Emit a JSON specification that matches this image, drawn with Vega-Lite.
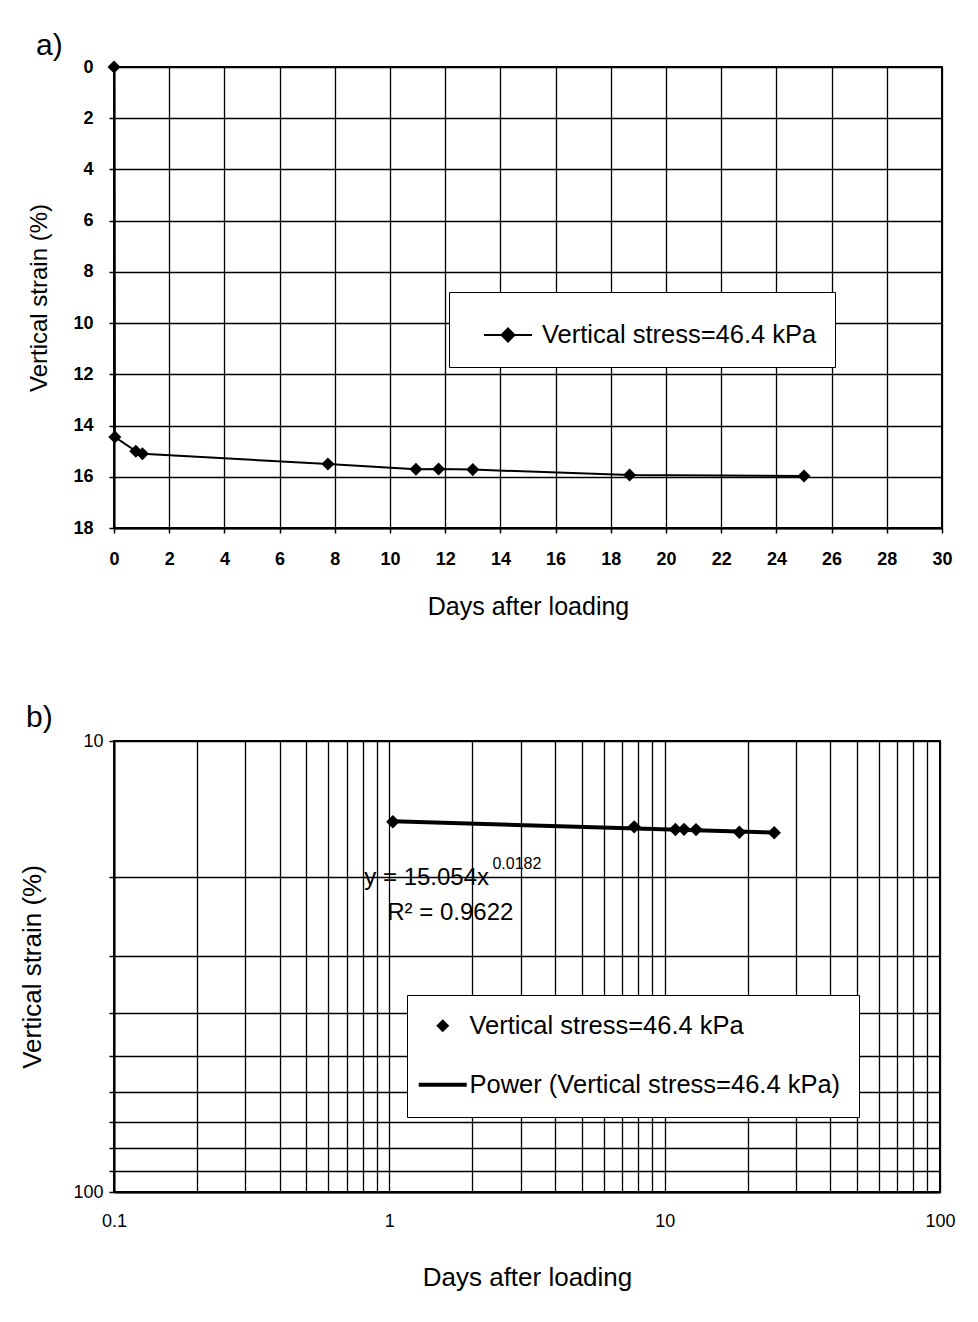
{
  "$schema": "https://vega.github.io/schema/vega-lite/v6.json",
  "padding": {"top": 30, "left": 18, "right": 0, "bottom": 0},
  "background": "white",
  "spacing": 82,
  "resolve": {"scale": {"color": "independent"}, "legend": {"color": "independent"}},
  "config": {
    "font": "Liberation Sans",
    "view": {"stroke": "black", "strokeWidth": 2},
    "axis": {
      "gridColor": "black", "gridOpacity": 1, "gridWidth": 1.3,
      "domainColor": "black", "domainWidth": 2,
      "tickColor": "black", "tickWidth": 1.5, "tickSize": 5,
      "labelColor": "black", "titleColor": "black",
      "titleFontWeight": "normal", "titleFontSize": 24, "labelFontSize": 18,
      "labelOverlap": false, "labelFlush": false
    },
    "legend": {"labelColor": "black", "titleColor": "black"},
    "title": {"fontSize": 30, "fontWeight": "normal", "anchor": "start", "frame": "bounds", "color": "black"}
  },
  "datasets": {
    "a": [
      {"day": 0, "strain": 0},
      {"day": 0.03, "strain": 14.45},
      {"day": 0.79, "strain": 15.0},
      {"day": 1.03, "strain": 15.1},
      {"day": 7.75, "strain": 15.5},
      {"day": 10.94, "strain": 15.71},
      {"day": 11.76, "strain": 15.7},
      {"day": 13.0, "strain": 15.72},
      {"day": 18.68, "strain": 15.93},
      {"day": 25.0, "strain": 15.97}
    ],
    "b": [
      {"day": 1.03, "strain": 15.1},
      {"day": 7.75, "strain": 15.5},
      {"day": 10.94, "strain": 15.71},
      {"day": 11.76, "strain": 15.7},
      {"day": 13.0, "strain": 15.72},
      {"day": 18.68, "strain": 15.93},
      {"day": 25.0, "strain": 15.97}
    ],
    "bfit": [
      {"day": 1.03, "strain": 15.062},
      {"day": 25.0, "strain": 15.958}
    ],
    "ann": [
      {"day": 0.811, "strain": 20.13, "text": "y = 15.054x", "kind": "main"},
      {"day": 2.369, "strain": 18.74, "text": "0.0182", "kind": "sup"},
      {"day": 0.983, "strain": 24.06, "text": "R² = 0.9622", "kind": "main"}
    ]
  },
  "vconcat": [
    {
      "width": 828,
      "height": 461,
      "title": {"text": "a)", "offset": -3, "dx": 8},
      "data": {"name": "a"},
      "mark": {"type": "line", "strokeWidth": 2, "point": {"shape": "diamond", "size": 170, "filled": true, "opacity": 1}},
      "encoding": {
        "x": {
          "field": "day", "type": "quantitative",
          "scale": {"domain": [0, 30], "nice": false},
          "axis": {"values": [0, 2, 4, 6, 8, 10, 12, 14, 16, 18, 20, 22, 24, 26, 28, 30], "title": "Days after loading", "titleFontSize": 25, "labelFontWeight": "bold", "labelPadding": 17, "titlePadding": 26}
        },
        "y": {
          "field": "strain", "type": "quantitative",
          "scale": {"domain": [0, 18], "reverse": true, "nice": false},
          "axis": {"values": [0, 2, 4, 6, 8, 10, 12, 14, 16, 18], "title": "Vertical strain (%)", "labelFontWeight": "bold", "labelPadding": 16, "titlePadding": 21}
        },
        "color": {
          "datum": "Vertical stress=46.4 kPa", "type": "nominal",
          "scale": {"range": ["black"]},
          "legend": {
            "title": null, "orient": "none", "legendX": 335, "legendY": 225,
            "fillColor": "white", "strokeColor": "black", "padding": 18,
            "symbolType": "M-1,0L1,0M0,-0.27L0.27,0L0,0.27L-0.27,0Z",
            "symbolSize": 2304, "symbolStrokeWidth": 2, "symbolOffset": 16,
            "labelFontSize": 25.5, "labelOffset": 9, "labelLimit": 600,
            "encode": {"symbols": {"update": {"fill": {"value": "black"}, "stroke": {"value": "black"}, "opacity": {"value": 1}}}}
          }
        }
      }
    },
    {
      "width": 826,
      "height": 451,
      "title": {"text": "b)", "offset": -1, "dx": 6},
      "encoding": {
        "x": {
          "field": "day", "type": "quantitative",
          "scale": {"type": "log", "domain": [0.1, 100], "nice": false},
          "axis": {
            "values": [0.1, 0.2, 0.3, 0.4, 0.5, 0.6, 0.7, 0.8, 0.9, 1, 2, 3, 4, 5, 6, 7, 8, 9, 10, 20, 30, 40, 50, 60, 70, 80, 90, 100],
            "format": "~g",
            "labelExpr": "(datum.value == 0.1 || datum.value == 1 || datum.value == 10 || datum.value == 100) ? datum.label : ''",
            "ticks": false, "labelPadding": 20, "titlePadding": 34, "title": "Days after loading", "titleFontSize": 26
          }
        },
        "y": {
          "field": "strain", "type": "quantitative",
          "scale": {"type": "log", "domain": [10, 100], "reverse": true, "nice": false},
          "axis": {
            "values": [10, 20, 30, 40, 50, 60, 70, 80, 90, 100],
            "format": "~g",
            "labelExpr": "(datum.value == 10 || datum.value == 100) ? datum.label : ''",
            "labelPadding": 6, "titlePadding": 27, "title": "Vertical strain (%)", "titleFontSize": 26
          }
        }
      },
      "layer": [
        {
          "data": {"name": "bfit"},
          "mark": {"type": "line", "strokeWidth": 4},
          "encoding": {
            "color": {
              "datum": "Power (Vertical stress=46.4 kPa)", "type": "nominal",
              "scale": {"domain": ["Vertical stress=46.4 kPa", "Power (Vertical stress=46.4 kPa)"], "range": ["black", "black"]},
              "legend": {
                "title": null, "orient": "none", "legendX": 293, "legendY": 254,
                "fillColor": "white", "strokeColor": "black", "padding": 18,
                "symbolSize": 2304, "symbolOffset": 5, "rowPadding": 32,
                "labelFontSize": 25.5, "labelOffset": 14, "labelLimit": 600,
                "encode": {"symbols": {"update": {
                  "shape": {"signal": "datum.value == 'Vertical stress=46.4 kPa' ? 'diamond' : 'stroke'"},
                  "size": {"signal": "datum.value == 'Vertical stress=46.4 kPa' ? 170 : 2304"},
                  "strokeWidth": {"signal": "datum.value == 'Vertical stress=46.4 kPa' ? 0 : 4"},
                  "fill": {"value": "black"},
                  "stroke": {"value": "black"},
                  "opacity": {"value": 1}
                }}}
              }
            }
          }
        },
        {
          "data": {"name": "b"},
          "mark": {"type": "point", "shape": "diamond", "filled": true, "size": 180, "opacity": 1},
          "encoding": {
            "color": {"datum": "Vertical stress=46.4 kPa", "type": "nominal"}
          }
        },
        {
          "data": {"name": "ann"},
          "transform": [{"filter": "datum.kind == 'main'"}],
          "mark": {"type": "text", "align": "left", "baseline": "middle", "fontSize": 24, "color": "black"},
          "encoding": {"text": {"field": "text"}}
        },
        {
          "data": {"name": "ann"},
          "transform": [{"filter": "datum.kind == 'sup'"}],
          "mark": {"type": "text", "align": "left", "baseline": "middle", "fontSize": 16, "color": "black"},
          "encoding": {"text": {"field": "text"}}
        }
      ]
    }
  ]
}
